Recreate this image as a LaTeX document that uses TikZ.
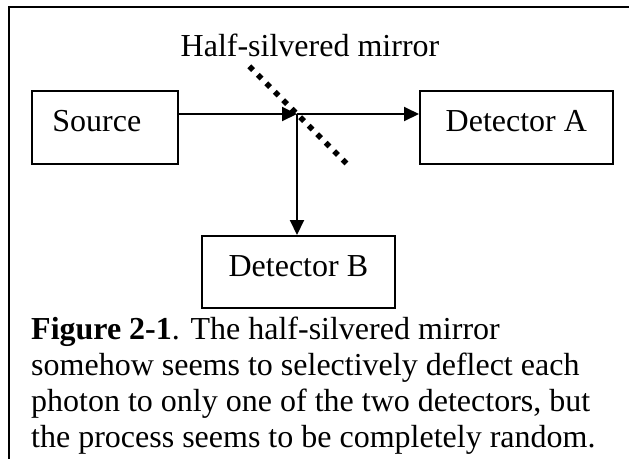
\documentclass[tikz,border=0pt]{standalone}
\usepackage{fontspec}
\setmainfont{Liberation Serif}
\usetikzlibrary{arrows.meta}
\begin{document}
\begin{tikzpicture}[x=1pt,y=-1pt,
  txt/.style={font=\fontsize{32pt}{36.8pt}\selectfont, inner sep=0pt},
  box/.style={draw, line width=1.7pt, inner sep=0pt, minimum width=146pt,
    text height=41pt, text depth=32pt, anchor=north west,
    font=\fontsize{32pt}{36.8pt}\selectfont},
  arr/.style={line width=2pt, -{Triangle[length=15pt,width=14pt]}},
  mirrorline/.style={line width=5.4pt, dash pattern=on 5.4pt off 6.6pt},
  frameline/.style={line width=2pt}
]
\useasboundingbox (0,0) rectangle (629,459);
% frame (top and left only)
\draw[frameline] (629,7) -- (9,7) -- (9,459);

% boxes
\node[box] (src) at (31,90) {Source\rule{16pt}{0pt}};
\node[box, minimum width=193pt] (detA) at (419,90) {Detector A};
\node[box, minimum width=193pt, text depth=31pt] (detB) at (201,235) {Detector B};

% mirror
\coordinate (M) at (297,114);
\coordinate (m1) at (249.3,66.3);
\coordinate (m2) at (346.4,163.4);
\draw[mirrorline] (m1) -- (m2);
\node[txt, anchor=base] (mlabel) at (310,56) {Half-silvered mirror};

% beams
\draw[arr] (src.east |- M) -- (M);
\draw[arr] (M) -- (detA.west |- M);
\draw[arr] (M) -- (detB.north -| M);

% caption
\node[txt, anchor=base west] (cap1) at (31,339) {\textbf{Figure 2-1}. The half-silvered mirror};
\node[txt, anchor=base west] (cap2) at (31,375) {somehow seems to selectively deflect each};
\node[txt, anchor=base west] (cap3) at (31,411) {photon to only one of the two detectors, but};
\node[txt, anchor=base west] (cap4) at (31,447) {the process seems to be completely random.};
\end{tikzpicture}
\end{document}
